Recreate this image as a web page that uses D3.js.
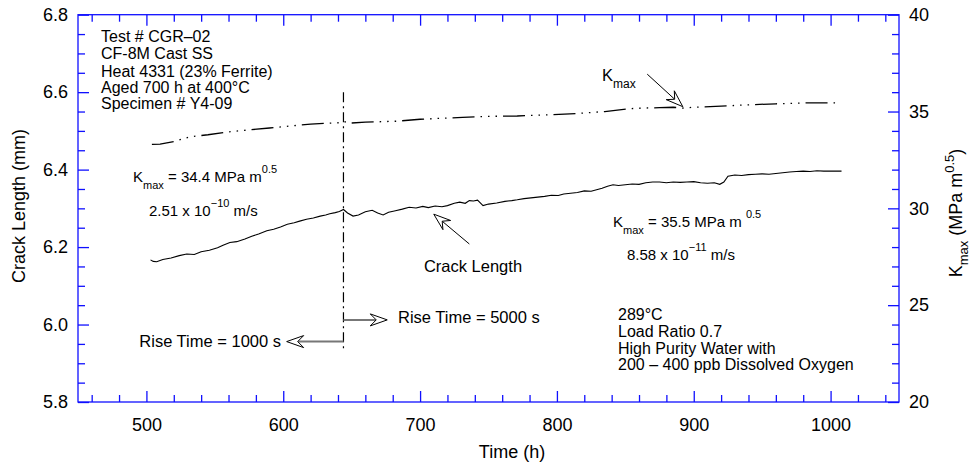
<!DOCTYPE html>
<html>
<head>
<meta charset="utf-8">
<script src="https://cdn.jsdelivr.net/npm/d3@7"></script>
<style>
  body { margin: 0; background: #fff; }
  svg { font-family: "Liberation Sans", Arial, Helvetica, sans-serif; }
  .axis line { stroke: #1010ff; stroke-width: 1.3; }
  .axis path { display: none; }
  .axis text { font-size: 18px; fill: #000; }
</style>
</head>
<body>
<div id="chart-area"></div>
<script>
/*
*    crack growth chart
*/

var width = 975;
var height = 465;
var frame = {left: 78, right: 899, top: 14.7, bottom: 402};

// crack length (mm) vs time (h)
var crackTime = [503, 505, 507.5, 512, 518, 524, 529.5, 535, 540, 546, 552, 556, 561, 566, 572, 577, 582, 588, 593, 598,
    603, 608, 612, 617, 622, 627, 631, 634, 638, 641, 644, 647, 651, 655, 660, 665, 669, 673, 677, 682,
    687, 692, 697, 702, 706, 711, 716, 720, 725, 729, 733, 736, 739, 742, 746, 750, 756, 762, 767, 771,
    776, 781, 786, 791, 796, 801, 805, 810, 815, 820, 825, 829, 833, 837, 841, 845, 850, 855, 860, 865,
    870, 875, 880, 885, 890, 895, 900, 905, 910, 915, 919, 922, 925, 930, 935, 940, 945, 950, 955, 960,
    965, 970, 975, 980, 985, 990, 995, 1000, 1005, 1008];
var crackLength = [6.167, 6.163, 6.162, 6.168, 6.172, 6.178, 6.182, 6.181, 6.188, 6.192, 6.198, 6.205, 6.212, 6.214, 6.221, 6.228, 6.234, 6.242, 6.246, 6.252,
    6.259, 6.263, 6.267, 6.272, 6.275, 6.280, 6.283, 6.286, 6.289, 6.292, 6.297, 6.288, 6.280, 6.283, 6.291, 6.295, 6.288, 6.283, 6.290, 6.294,
    6.298, 6.303, 6.301, 6.305, 6.302, 6.306, 6.304, 6.307, 6.313, 6.316, 6.313, 6.320, 6.319, 6.321, 6.307, 6.311, 6.314, 6.318, 6.320, 6.322,
    6.325, 6.327, 6.329, 6.331, 6.334, 6.333, 6.337, 6.339, 6.341, 6.345, 6.344, 6.348, 6.352, 6.357, 6.361, 6.359, 6.361, 6.363, 6.362, 6.366,
    6.368, 6.368, 6.366, 6.368, 6.367, 6.368, 6.369, 6.366, 6.365, 6.366, 6.362, 6.368, 6.383, 6.386, 6.385, 6.387, 6.388, 6.389, 6.388, 6.390,
    6.392, 6.394, 6.395, 6.396, 6.395, 6.397, 6.396, 6.396, 6.396, 6.396];

// Kmax (MPa m^0.5) vs time (h)
var kmaxTime = [504, 510, 520, 532, 545, 560, 575, 590, 605, 620, 634, 640, 644, 648, 660, 683, 700, 715, 731, 750,
    771, 790, 815, 835, 853, 865, 875, 885, 892, 900, 920, 941, 960, 985, 1007];
var kmaxValue = [33.3, 33.32, 33.45, 33.7, 33.8, 33.95, 34.05, 34.15, 34.25, 34.35, 34.4, 34.42, 34.5, 34.4, 34.45, 34.5, 34.6, 34.65, 34.7, 34.75,
    34.77, 34.82, 34.9, 35.0, 35.15, 35.18, 35.2, 35.22, 35.18, 35.22, 35.28, 35.35, 35.4, 35.45, 35.45];

// axes
var xMajor = [500, 600, 700, 800, 900, 1000];
var xLabels = ["500", "600", "700", "800", "900", "1000"];
var xMinor = [460, 480, 520, 540, 560, 580, 620, 640, 660, 680, 720, 740, 760, 780, 820, 840, 860, 880, 920, 940, 960, 980, 1020, 1040];
var yMajor = [5.8, 6.0, 6.2, 6.4, 6.6, 6.8];
var yLabels = ["5.8", "6.0", "6.2", "6.4", "6.6", "6.8"];
var yMinor = [5.85, 5.9, 5.95, 6.05, 6.1, 6.15, 6.25, 6.3, 6.35, 6.45, 6.5, 6.55, 6.65, 6.7, 6.75];
var kMajor = [20, 25, 30, 35, 40];
var kMinor = [21, 22, 23, 24, 26, 27, 28, 29, 31, 32, 33, 34, 36, 37, 38, 39];

var riseChangeTime = 644;

var svg = d3.select("#chart-area").append("svg").attr("width", width).attr("height", height);

var x = d3.scaleLinear().domain([450, 1050]).range([frame.left, frame.right]);
var y = d3.scaleLinear().domain([5.8, 6.8]).range([frame.bottom, frame.top]);
var yK = d3.scaleLinear().domain([20, 40]).range([frame.bottom, frame.top]);

function addAxis(axis, tx, ty) {
    return svg.append("g").attr("class", "axis").attr("transform", "translate(" + tx + "," + ty + ")").call(axis);
}

addAxis(d3.axisBottom(x).tickValues(xMajor).tickSize(-11).tickPadding(16).tickFormat((d, i) => xLabels[i]), 0, frame.bottom);
addAxis(d3.axisBottom(x).tickValues(xMinor).tickSize(-7).tickFormat(""), 0, frame.bottom);
addAxis(d3.axisTop(x).tickValues(xMajor).tickSize(-11).tickFormat(""), 0, frame.top);
addAxis(d3.axisTop(x).tickValues(xMinor).tickSize(-7).tickFormat(""), 0, frame.top);
addAxis(d3.axisLeft(y).tickValues(yMajor).tickSize(-11).tickPadding(10).tickFormat((d, i) => yLabels[i]), frame.left, 0);
addAxis(d3.axisLeft(y).tickValues(yMinor).tickSize(-7).tickFormat(""), frame.left, 0);
addAxis(d3.axisRight(yK).tickValues(kMajor).tickSize(-11).tickPadding(10), frame.right, 0);
addAxis(d3.axisRight(yK).tickValues(kMinor).tickSize(-7).tickFormat(""), frame.right, 0);

svg.append("rect").attr("x", frame.left).attr("y", frame.top)
    .attr("width", frame.right - frame.left).attr("height", frame.bottom - frame.top)
    .attr("fill", "none").attr("stroke", "#1010ff").attr("stroke-width", 1.3);

// axis titles
svg.append("text").attr("x", 512).attr("y", 458).attr("text-anchor", "middle").attr("font-size", "18px").text("Time (h)");
svg.append("text").attr("transform", "translate(25,206) rotate(-90)").attr("text-anchor", "middle").attr("font-size", "18px").text("Crack Length (mm)");
var rt = svg.append("text").attr("transform", "translate(962,213) rotate(-90)").attr("text-anchor", "middle").attr("font-size", "18px");
rt.append("tspan").text("K");
rt.append("tspan").attr("dy", 6).attr("font-size", "13px").text("max");
rt.append("tspan").attr("dy", -6).text(" (MPa m");
rt.append("tspan").attr("dy", -8).attr("font-size", "13px").text("0.5");
rt.append("tspan").attr("dy", 8).text(")");

// series
var crackData = crackTime.map((t, i) => [t, crackLength[i]]);
var kmaxData = kmaxTime.map((t, i) => [t, kmaxValue[i]]);

svg.append("path").datum(crackData)
    .attr("d", d3.line().x(d => x(d[0])).y(d => y(d[1])))
    .attr("fill", "none").attr("stroke", "#000").attr("stroke-width", 1.1);

svg.append("path").datum(kmaxData)
    .attr("d", d3.line().x(d => x(d[0])).y(d => yK(d[1])))
    .attr("fill", "none").attr("stroke", "#000").attr("stroke-width", 1.3)
    .attr("stroke-dasharray", "22,6,1.5,6,1.5,6,1.5,6");

// rise time change
svg.append("line").attr("x1", x(riseChangeTime)).attr("x2", x(riseChangeTime))
    .attr("y1", y(6.60)).attr("y2", y(5.934))
    .attr("stroke", "#000").attr("stroke-width", 1.2).attr("stroke-dasharray", "10,4,2,4");

function arrow(x1, y1, x2, y2, color, w) {
    var dx = x2 - x1, dy = y2 - y1, len = Math.sqrt(dx * dx + dy * dy);
    var ux = dx / len, uy = dy / len, px = -uy, py = ux;
    var L = 17, W = 6, N = 11;
    svg.append("line").attr("x1", x1).attr("y1", y1).attr("x2", x2 - N * ux).attr("y2", y2 - N * uy)
        .attr("stroke", color).attr("stroke-width", w);
    var pts = [[x2, y2], [x2 - L * ux + W * px, y2 - L * uy + W * py], [x2 - N * ux, y2 - N * uy], [x2 - L * ux - W * px, y2 - L * uy - W * py]];
    svg.append("path").attr("d", "M" + pts.join("L") + "Z").attr("fill", "#fff").attr("stroke", "#000").attr("stroke-width", 1);
}

arrow(x(riseChangeTime), y(5.956), x(602.5), y(5.956), "#777", 2);
arrow(x(riseChangeTime), y(6.012), x(676), y(6.012), "#777", 2);
arrow(x(866), yK(36.93), x(892), yK(35.25), "#000", 1);
arrow(x(736), y(6.208), x(710), y(6.285), "#000", 1);

// annotations
function block(lines, tx, ys) {
    lines.forEach((s, i) => {
        svg.append("text").attr("x", tx).attr("y", ys[i]).attr("font-size", "16px").text(s);
    });
}
block(["Test # CGR\u201302", "CF-8M Cast SS", "Heat 4331 (23% Ferrite)", "Aged 700 h at 400\u00b0C", "Specimen # Y4-09"], 101, [42, 59, 77, 93, 109]);
block(["289\u00b0C", "Load Ratio 0.7", "High Purity Water with", "200 \u2013 400 ppb Dissolved Oxygen"], 618, [320, 337, 354, 370]);

svg.append("text").attr("x", 281).attr("y", 347).attr("text-anchor", "end").attr("font-size", "16.5px").text("Rise Time = 1000 s");
svg.append("text").attr("x", 398).attr("y", 323).attr("font-size", "16.5px").text("Rise Time = 5000 s");
svg.append("text").attr("x", 473).attr("y", 272).attr("text-anchor", "middle").attr("font-size", "16.5px").text("Crack Length");

var kl = svg.append("text").attr("x", 602).attr("y", 81).attr("font-size", "16.5px");
kl.append("tspan").text("K");
kl.append("tspan").attr("dy", 7).attr("font-size", "12px").text("max");

function kmaxNote(tx, ty, val, gap) {
    var t = svg.append("text").attr("x", tx).attr("y", ty).attr("font-size", "15px");
    t.append("tspan").text("K");
    t.append("tspan").attr("dy", 7).attr("font-size", "11px").text("max");
    t.append("tspan").attr("dy", -7).text(" = " + val + " MPa m" + gap);
    t.append("tspan").attr("dy", -9).attr("font-size", "11px").text("0.5");
}
function rateNote(tx, ty, mant, ex, gap) {
    var t = svg.append("text").attr("x", tx).attr("y", ty).attr("font-size", "15px");
    t.append("tspan").text(mant + " x 10");
    t.append("tspan").attr("dy", -9).attr("font-size", "11px").text(ex);
    t.append("tspan").attr("dy", 9).text(gap + "m/s");
}
kmaxNote(133, 182, "34.4", "");
rateNote(149, 216, "2.51", "\u221210", " ");
kmaxNote(613, 227, "35.5", " ");
rateNote(627, 260, "8.58", "\u221211", "  ");
</script>
</body>
</html>
